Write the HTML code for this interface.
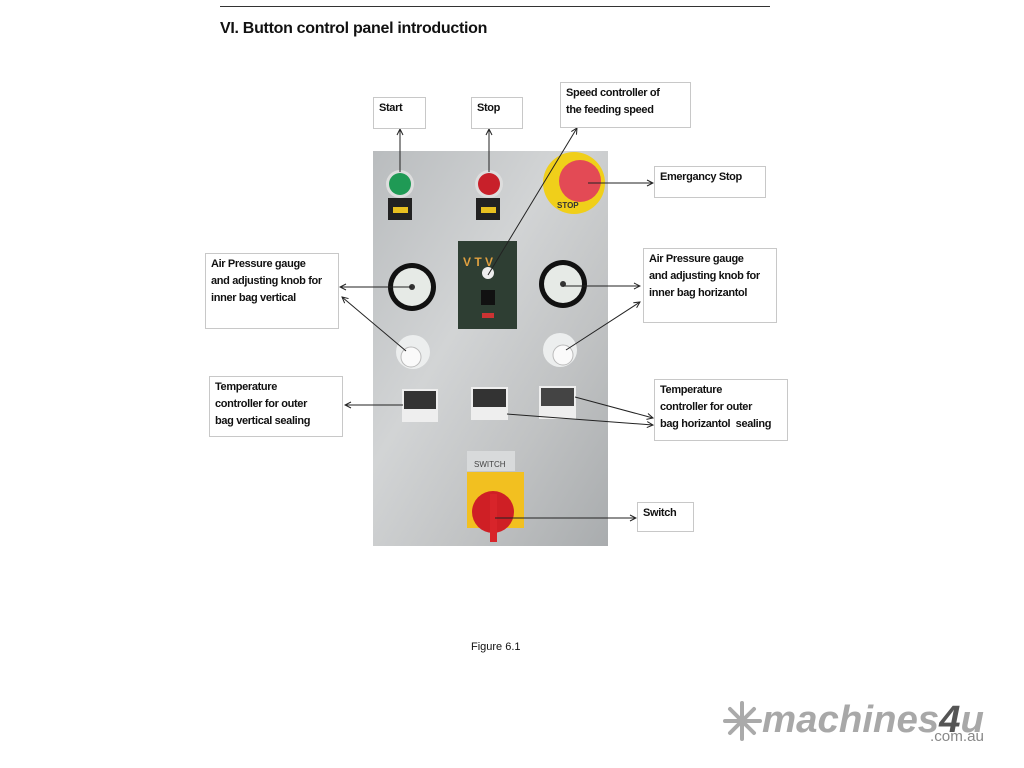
<!DOCTYPE html>
<html><head><meta charset="utf-8"><style>
body{margin:0;background:#fff;width:1024px;height:768px;overflow:hidden;position:relative;font-family:"Liberation Sans",sans-serif}
.b{position:absolute;border:1px solid #c8c8c8;background:#fff;font-weight:bold;font-size:11px;letter-spacing:-0.35px;line-height:17px;color:#111;padding:2px 5px;box-sizing:border-box;white-space:nowrap}
</style></head><body>
<div style="position:absolute;left:220px;top:6px;width:550px;height:1px;background:#333"></div>
<div style="position:absolute;left:220px;top:20px;font-weight:bold;font-size:16px;letter-spacing:-0.3px;color:#111">VI. Button control panel introduction</div>
<svg width="1024" height="768" style="position:absolute;left:0;top:0">
<defs>
<linearGradient id="pg" x1="0" y1="0" x2="1" y2="1"><stop offset="0" stop-color="#b9bcbe"/><stop offset="0.4" stop-color="#d2d4d5"/><stop offset="0.7" stop-color="#c0c2c3"/><stop offset="1" stop-color="#a9acae"/></linearGradient>
<marker id="a" markerWidth="8" markerHeight="8" refX="7" refY="4" orient="auto" markerUnits="userSpaceOnUse"><path d="M1,1 L7,4 L1,7" fill="none" stroke="#222" stroke-width="1"/></marker>
</defs>
<rect x="373" y="151" width="235" height="395" fill="url(#pg)"/>
<rect x="388" y="198" width="24" height="22" fill="#222"/><rect x="393" y="207" width="15" height="6" fill="#e8c020"/>
<circle cx="400" cy="184" r="14" fill="#ddd"/><circle cx="400" cy="184" r="11" fill="#1f9a55"/>
<rect x="476" y="198" width="24" height="22" fill="#222"/><rect x="481" y="207" width="15" height="6" fill="#e8c020"/>
<circle cx="489" cy="184" r="14" fill="#ddd"/><circle cx="489" cy="184" r="11" fill="#c8202a"/>
<circle cx="574" cy="183" r="31" fill="#f0cf1a"/><circle cx="580" cy="181" r="21" fill="#e34a55"/>
<text x="557" y="208" font-size="8" fill="#333" font-weight="bold">STOP</text>
<rect x="458" y="241" width="59" height="88" fill="#2e3e33"/>
<text x="463" y="266" font-size="12" fill="#e0a040" font-weight="bold">V T V</text>
<circle cx="488" cy="273" r="6" fill="#eee"/><rect x="481" y="290" width="14" height="15" fill="#111"/>
<rect x="482" y="313" width="12" height="5" fill="#c33"/>
<circle cx="412" cy="287" r="24" fill="#111"/><circle cx="412" cy="287" r="19" fill="#e6eae6"/><circle cx="412" cy="287" r="3" fill="#333"/>
<circle cx="563" cy="284" r="24" fill="#111"/><circle cx="563" cy="284" r="19" fill="#e6eae6"/><circle cx="563" cy="284" r="3" fill="#333"/>
<circle cx="413" cy="352" r="17" fill="#eceeee"/><circle cx="411" cy="357" r="10" fill="#fafafa" stroke="#bbb"/>
<circle cx="560" cy="350" r="17" fill="#eceeee"/><circle cx="563" cy="355" r="10" fill="#fafafa" stroke="#bbb"/>
<rect x="402" y="389" width="36" height="33" fill="#eee"/><rect x="404" y="391" width="32" height="18" fill="#333"/>
<rect x="471" y="387" width="37" height="33" fill="#eee"/><rect x="473" y="389" width="33" height="18" fill="#333"/>
<rect x="539" y="386" width="37" height="33" fill="#eee"/><rect x="541" y="388" width="33" height="18" fill="#444"/>
<rect x="467" y="451" width="48" height="20" fill="#d8dadb"/>
<text x="474" y="467" font-size="8" fill="#444">SWITCH</text>
<rect x="467" y="472" width="57" height="56" fill="#f2c020"/>
<circle cx="493" cy="512" r="21" fill="#cf1f25"/><rect x="490" y="494" width="7" height="48" fill="#d8242a"/>
<g stroke="#222" stroke-width="1" fill="none" marker-end="url(#a)">
<line x1="400" y1="172" x2="400" y2="129"/>
<line x1="489" y1="172" x2="489" y2="129"/>
<line x1="488" y1="275" x2="577" y2="128"/>
<line x1="588" y1="183" x2="653" y2="183"/>
<line x1="412" y1="287" x2="340" y2="287"/>
<line x1="406" y1="351" x2="342" y2="297"/>
<line x1="563" y1="286" x2="640" y2="286"/>
<line x1="566" y1="350" x2="640" y2="302"/>
<line x1="403" y1="405" x2="345" y2="405"/>
<line x1="575" y1="397" x2="653" y2="418"/>
<line x1="507" y1="414" x2="653" y2="425"/>
<line x1="495" y1="518" x2="636" y2="518"/>
</g>
<g stroke="#aaa" stroke-width="4" stroke-linecap="round">
<line x1="742" y1="703" x2="742" y2="739"/><line x1="725" y1="721" x2="760" y2="721"/>
<line x1="730" y1="709" x2="754" y2="733"/><line x1="754" y1="709" x2="730" y2="733"/>
</g>
<text x="762" y="732" font-size="38" font-weight="bold" font-style="italic" fill="#a8a8a8" textLength="222" lengthAdjust="spacingAndGlyphs">machines<tspan fill="#555">4</tspan>u</text>
<text x="930" y="741" font-size="15" fill="#888" textLength="54" lengthAdjust="spacingAndGlyphs">.com.au</text>
</svg>
<div class="b" style="left:373px;top:97px;width:53px;height:32px">Start</div>
<div class="b" style="left:471px;top:97px;width:52px;height:32px">Stop</div>
<div class="b" style="left:560px;top:82px;width:131px;height:46px">Speed controller of<br>the feeding speed</div>
<div class="b" style="left:654px;top:166px;width:112px;height:32px">Emergancy Stop</div>
<div class="b" style="left:205px;top:253px;width:134px;height:76px">Air Pressure gauge<br>and adjusting knob for<br>inner bag vertical</div>
<div class="b" style="left:643px;top:248px;width:134px;height:75px">Air Pressure gauge<br>and adjusting knob for<br>inner bag horizantol</div>
<div class="b" style="left:209px;top:376px;width:134px;height:61px">Temperature<br>controller for outer<br>bag vertical sealing</div>
<div class="b" style="left:654px;top:379px;width:134px;height:62px">Temperature<br>controller for outer<br>bag horizantol&nbsp; sealing</div>
<div class="b" style="left:637px;top:502px;width:57px;height:30px">Switch</div>
<div style="position:absolute;left:471px;top:641px;font-size:11px;color:#111">Figure 6.1</div>
</body></html>
